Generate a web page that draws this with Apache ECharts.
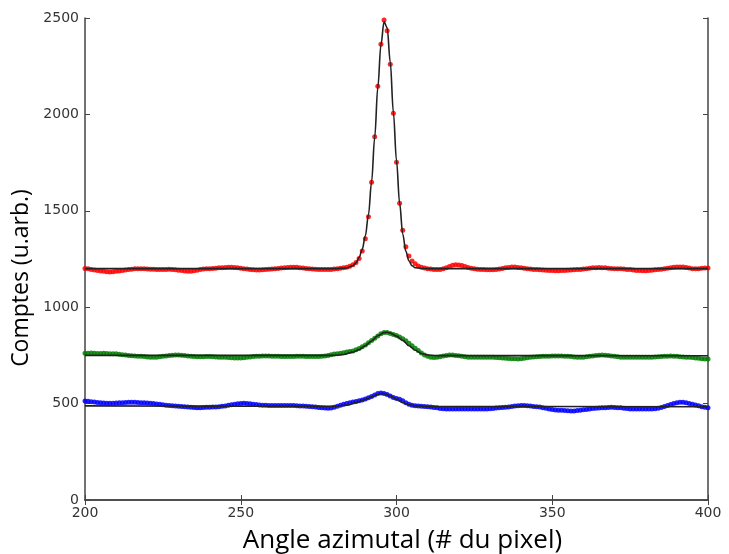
<!DOCTYPE html>
<html>
<head>
<meta charset="utf-8">
<script src="https://cdn.jsdelivr.net/npm/echarts@6/dist/echarts.min.js"></script>
<style>
  html, body { margin: 0; padding: 0; background: #fff; }
  #chart { width: 729px; height: 554px; }
</style>
</head>
<body>
<div id="chart"></div>
<script>
// pixel positions run 200..400, one measurement per pixel
const firstPixel = 200;

// raw counts, red curve (one value per pixel 200..400)
const redCounts = [
  1201, 1199, 1196, 1193, 1191, 1188, 1186, 1184, 1183, 1184,
  1186, 1188, 1190, 1193, 1195, 1197, 1199, 1200, 1200, 1199,
  1198, 1197, 1197, 1196, 1195, 1196, 1196, 1197, 1196, 1194,
  1192, 1190, 1188, 1187, 1187, 1189, 1192, 1195, 1198, 1200,
  1200, 1201, 1202, 1204, 1205, 1206, 1207, 1207, 1206, 1204,
  1202, 1200, 1198, 1196, 1194, 1193, 1193, 1194, 1195, 1197,
  1198, 1200, 1201, 1203, 1204, 1206, 1207, 1207, 1207, 1205,
  1203, 1201, 1200, 1198, 1197, 1196, 1195, 1195, 1195, 1196,
  1198, 1200, 1202, 1204, 1207, 1212, 1220, 1232, 1252, 1292,
  1355, 1469, 1648, 1884, 2146, 2364, 2490, 2434, 2260, 2006,
  1752, 1539, 1399, 1314, 1266, 1240, 1225, 1214, 1207, 1203,
  1200, 1198, 1196, 1195, 1196, 1200, 1205, 1211, 1217, 1220,
  1219, 1216, 1211, 1206, 1202, 1199, 1197, 1196, 1195, 1194,
  1194, 1194, 1196, 1198, 1201, 1204, 1206, 1208, 1208, 1206,
  1204, 1202, 1200, 1198, 1196, 1195, 1194, 1193, 1192, 1191,
  1190, 1189, 1189, 1190, 1191, 1192, 1193, 1194, 1195, 1196,
  1198, 1200, 1202, 1204, 1205, 1206, 1205, 1204, 1202, 1201,
  1200, 1199, 1199, 1198, 1196, 1195, 1193, 1191, 1190, 1189,
  1189, 1190, 1192, 1194, 1196, 1197, 1199, 1202, 1205, 1207,
  1209, 1209, 1208, 1206, 1203, 1200, 1199, 1200, 1202, 1203,
  1203
];

// raw counts, green curve
const greenCounts = [
  761, 761, 762, 761, 760, 760, 761, 760, 759, 759,
  758, 756, 754, 752, 750, 748, 747, 746, 745, 744,
  742, 741, 740, 741, 743, 745, 747, 749, 751, 752,
  752, 751, 749, 747, 745, 744, 743, 743, 743, 744,
  744, 743, 742, 741, 740, 740, 739, 738, 737, 737,
  737, 738, 740, 742, 744, 745, 746, 747, 747, 747,
  746, 745, 745, 744, 744, 744, 744, 744, 745, 745,
  745, 744, 744, 744, 744, 744, 745, 747, 750, 754,
  757, 759, 761, 764, 767, 770, 773, 779, 786, 795,
  804, 815, 827, 839, 851, 862, 869, 869, 863, 859,
  853, 845, 836, 826, 813, 800, 787, 775, 763, 752,
  745, 741, 739, 740, 743, 747, 750, 752, 752, 750,
  748, 745, 743, 741, 740, 740, 740, 740, 740, 740,
  740, 740, 739, 738, 737, 735, 734, 733, 732, 731,
  733, 735, 738, 740, 742, 743, 744, 745, 746, 746,
  747, 747, 747, 747, 746, 745, 744, 742, 741, 740,
  741, 743, 745, 747, 749, 751, 752, 751, 749, 747,
  745, 743, 741, 740, 740, 740, 740, 740, 740, 740,
  740, 740, 741, 742, 743, 744, 745, 746, 747, 746,
  745, 743, 742, 741, 740, 739, 737, 735, 733, 731,
  731
];

// raw counts, blue curve
const blueCounts = [
  514, 512, 510, 508, 506, 504, 503, 502, 502, 502,
  503, 504, 505, 506, 507, 507, 507, 506, 505, 504,
  503, 502, 500, 498, 496, 494, 492, 490, 489, 488,
  486, 485, 484, 482, 481, 480, 479, 479, 480, 481,
  481, 482, 483, 484, 486, 488, 491, 494, 497, 499,
  501, 502, 501, 499, 497, 495, 493, 492, 491, 490,
  490, 490, 490, 490, 490, 490, 490, 490, 489, 488,
  487, 486, 485, 484, 482, 480, 478, 477, 476, 477,
  481, 486, 491, 497, 501, 505, 508, 511, 515, 519,
  524, 530, 537, 545, 552, 555, 553, 547, 539, 532,
  527, 523, 515, 505, 497, 492, 489, 487, 486, 485,
  484, 482, 480, 478, 475, 473, 472, 472, 472, 472,
  472, 472, 472, 472, 472, 472, 472, 472, 472, 472,
  473, 475, 477, 479, 480, 481, 483, 485, 487, 489,
  490, 490, 489, 487, 485, 484, 482, 479, 476, 472,
  469, 467, 466, 465, 464, 463, 462, 462, 464, 466,
  468, 470, 472, 474, 476, 477, 478, 479, 480, 481,
  480, 479, 478, 476, 474, 472, 472, 472, 472, 472,
  472, 472, 472, 473, 476, 480, 485, 490, 495, 500,
  504, 507, 507, 505, 501, 497, 493, 489, 484, 481,
  479
];

// fitted curves (x, y)
const redFitX = [200, 280, 284, 286, 287, 288, 289, 290, 291, 292, 293, 294, 295, 296, 297, 298, 299, 300, 301, 302, 303, 304, 305, 306, 308, 310, 400];
const redFitY = [1200, 1200, 1203, 1215, 1230, 1258, 1300, 1370, 1480, 1650, 1880, 2140, 2360, 2480, 2450, 2270, 2010, 1760, 1540, 1380, 1290, 1240, 1215, 1205, 1201, 1200, 1200];

const greenFitX = [200, 280, 283, 286, 288, 290, 292, 294, 296, 297, 298, 300, 302, 304, 306, 308, 310, 313, 400];
const greenFitY = [750, 750, 755, 767, 780, 800, 825, 852, 868, 870, 866, 850, 828, 800, 777, 760, 752, 749, 748];

const blueFitX = [200, 280, 284, 287, 290, 292, 294, 295, 296, 298, 300, 302, 304, 306, 310, 400];
const blueFitY = [488, 486, 492, 505, 522, 535, 548, 552, 551, 540, 523, 505, 494, 488, 485, 484];

const xTicks = { min: 200, max: 400, interval: 50 };
const yTicks = { min: 0, max: 2500, interval: 500 };

function pairs(xs, ys) {
    return ys.map((v, i) => [xs[i], v]);
}
function pixelPairs(counts) {
    return counts.map((v, i) => [firstPixel + i, v]);
}

const chart = echarts.init(document.getElementById("chart"));

const frameLine = { show: true, lineStyle: { color: "#444", width: 1.5 } };
const innerTick = { show: true, inside: true, length: 5, lineStyle: { color: "#444", width: 1 } };
const plainLabel = { color: "#333", fontSize: 14, margin: 6, fontFamily: "DejaVu Sans", formatter: (v) => String(v) };

function scatter(counts, color) {
    return {
        type: "scatter",
        data: pixelPairs(counts),
        symbol: "circle",
        symbolSize: 5,
        itemStyle: { color: color, opacity: 0.85 },
        z: 2,
    };
}
function fit(xs, ys) {
    return {
        type: "line",
        data: pairs(xs, ys),
        showSymbol: false,
        smooth: 0.35,
        smoothMonotone: "x",
        lineStyle: { color: "#222", width: 1.6 },
        z: 3,
    };
}

const option = {
    animation: false,
    backgroundColor: "#fff",
    grid: { left: 85, right: 21, top: 18, bottom: 54, outerBoundsMode: "none", containLabel: false },
    xAxis: [
        {
            type: "value",
            position: "bottom",
            min: xTicks.min, max: xTicks.max, interval: xTicks.interval,
            axisLine: frameLine,
            axisTick: innerTick,
            axisLabel: plainLabel,
            splitLine: { show: false },
            name: "Angle azimutal (# du pixel)",
            nameLocation: "middle",
            nameGap: 28,
            nameTextStyle: { color: "#000", fontSize: 26, fontFamily: "Open Sans", padding: [0, 0, 0, 12] },
        },
        {
            type: "value",
            position: "top",
            min: xTicks.min, max: xTicks.max, interval: xTicks.interval,
            axisLine: frameLine,
            axisTick: innerTick,
            axisLabel: { show: false },
            splitLine: { show: false },
        },
    ],
    yAxis: [
        {
            type: "value",
            position: "left",
            min: yTicks.min, max: yTicks.max, interval: yTicks.interval,
            axisLine: frameLine,
            axisTick: innerTick,
            axisLabel: plainLabel,
            splitLine: { show: false },
            name: "Comptes (u.arb.)",
            nameLocation: "middle",
            nameGap: 50,
            nameTextStyle: { color: "#000", fontSize: 23, fontFamily: "Open Sans", padding: [0, 38, 0, 0] },
        },
        {
            type: "value",
            position: "right",
            min: yTicks.min, max: yTicks.max, interval: yTicks.interval,
            axisLine: frameLine,
            axisTick: innerTick,
            axisLabel: { show: false },
            splitLine: { show: false },
        },
    ],
    series: [
        scatter(redCounts, "#ff0000"),
        scatter(greenCounts, "#008000"),
        scatter(blueCounts, "#0000ff"),
        fit(redFitX, redFitY),
        fit(greenFitX, greenFitY),
        fit(blueFitX, blueFitY),
    ],
};

chart.setOption(option);
</script>
</body>
</html>
